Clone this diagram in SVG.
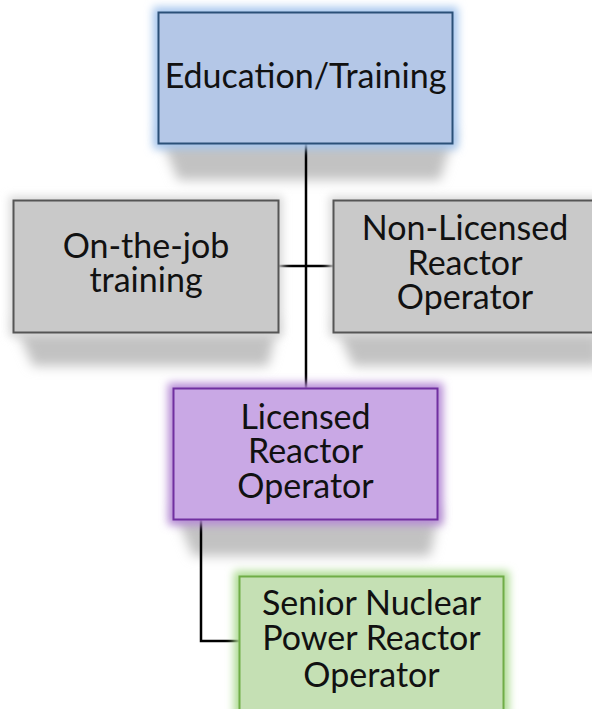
<svg xmlns="http://www.w3.org/2000/svg" width="592" height="709" viewBox="0 0 592 709">
  <defs>
    <filter id="shadow" x="-20%" y="-60%" width="140%" height="220%">
      <feGaussianBlur stdDeviation="6"/>
    </filter>
    <filter id="glow" x="-20%" y="-20%" width="140%" height="140%">
      <feGaussianBlur stdDeviation="4"/>
    </filter>
  </defs>
  <style>
    .label { font-family: Lato, "Noto Sans", sans-serif; font-size: 34px; fill: #111; text-anchor: middle; }
    .wire { stroke: #000; stroke-width: 2.5; fill: none; }
    .shade { fill: #c2c2c2; filter: url(#shadow); }
    .halo { filter: url(#glow); }
  </style>
  <rect width="592" height="709" fill="#fff"/>

  <!-- soft shadows cast below each box -->
  <g id="shadows">
    <polygon class="shade" points="158,130 455,130 440,180 178,180"/>
    <polygon class="shade" points="13,320 279,320 268,366 33,366"/>
    <polygon class="shade" points="333,320 600,320 600,366 353,366"/>
    <polygon class="shade" points="173,508 440,508 430,556 193,556"/>
  </g>

  <!-- connectors -->
  <g id="connectors">
    <line class="wire" x1="306" y1="144" x2="306" y2="388"/>
    <line class="wire" x1="279" y1="266" x2="333" y2="266"/>
    <polyline class="wire" points="201,520 201,641 239,641"/>
  </g>

  <g id="education">
    <rect class="halo" x="153" y="7" width="305" height="142" fill="#a6c6ee"/>
    <rect x="158.5" y="12.5" width="294" height="131" fill="#b4c7e7" stroke="#2b5078" stroke-width="2"/>
    <text class="label" x="305.5" y="88">Education/Training</text>
  </g>

  <g id="on-the-job">
    <rect class="halo" x="9" y="196" width="274" height="141" fill="#dadada"/>
    <rect x="13.5" y="200.5" width="265" height="132" fill="#c9c9c9" stroke="#555" stroke-width="2"/>
    <text class="label" x="146" y="258">On-the-job</text>
    <text class="label" x="146" y="292">training</text>
  </g>

  <g id="non-licensed">
    <rect class="halo" x="329" y="196" width="274" height="141" fill="#dadada"/>
    <rect x="333.5" y="200.5" width="264" height="132" fill="#c9c9c9" stroke="#555" stroke-width="2"/>
    <text class="label" x="465" y="240">Non-Licensed</text>
    <text class="label" x="465" y="275">Reactor</text>
    <text class="label" x="465" y="309">Operator</text>
  </g>

  <g id="licensed">
    <rect class="halo" x="168" y="383" width="275" height="142" fill="#b68bd6"/>
    <rect x="173.5" y="388.5" width="264" height="131" fill="#c9a8e5" stroke="#7030a0" stroke-width="2"/>
    <text class="label" x="305.5" y="429">Licensed</text>
    <text class="label" x="305.5" y="463">Reactor</text>
    <text class="label" x="305.5" y="498">Operator</text>
  </g>

  <g id="senior">
    <rect class="halo" x="234" y="571" width="275" height="146" fill="#addb93"/>
    <rect x="239.5" y="576.5" width="264" height="140" fill="#c5e0b4" stroke="#70ad47" stroke-width="2"/>
    <text class="label" x="371.5" y="615">Senior Nuclear</text>
    <text class="label" x="371.5" y="650">Power Reactor</text>
    <text class="label" x="371.5" y="687">Operator</text>
  </g>
</svg>
